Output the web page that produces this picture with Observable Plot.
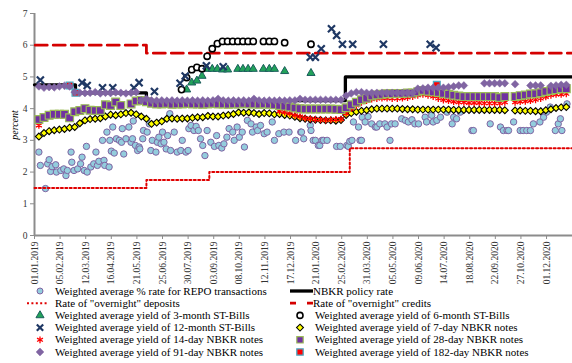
<!DOCTYPE html>
<html><head><meta charset="utf-8">
<script src="https://cdn.jsdelivr.net/npm/d3@7"></script>
<script src="https://cdn.jsdelivr.net/npm/@observablehq/plot@0.6"></script>
<style>
body{margin:0;background:#fff;}
#wrap{position:relative;width:572px;height:363px;overflow:hidden;font-family:"Liberation Serif","Times New Roman",serif;}
#wrap > svg{position:absolute;left:0;top:0;}
#wrap svg text{font-family:"Liberation Serif","Times New Roman",serif;}
.lg{position:absolute;font-size:11px;line-height:12px;white-space:nowrap;color:#000;}
#ylab{position:absolute;left:14px;top:125px;font-size:10px;font-style:italic;transform:translate(-50%,-50%) rotate(-90deg);white-space:nowrap;}
</style></head><body><div id="wrap"></div>
<script>
// ---------- DATA ----------
// x-axis tick labels (every 35 days)
const tickLabels = ["01.01.2019","05.02.2019","12.03.2019","16.04.2019","21.05.2019","25.06.2019","30.07.2019","03.09.2019","08.10.2019","12.11.2019","17.12.2019","21.01.2020","25.02.2020","31.03.2020","05.05.2020","09.06.2020","14.07.2020","18.08.2020","22.09.2020","27.10.2020","01.12.2020"];
const yTicks = [0,1,2,3,4,5,6,7];

// Step series (date of change, rate)
const policyDates = ["2019-01-01","2019-02-26","2019-06-03","2020-03-01","2021-01-06"];
const policyRates = [4.75,4.5,4.25,5.0,5.0];
const creditDates = ["2019-01-02","2019-06-03","2021-01-06"];
const creditRates = [6.0,5.75,5.75];
const depositDates = ["2019-01-01","2019-06-03","2019-08-28","2020-03-07","2021-01-06"];
const depositRates = [1.5,1.75,2.0,2.75,2.75];

// REPO transactions: day number since 01.01.2019 and weighted average rate
const repoDay = [6,8,15,18,20,22,24,29,30,36,40,43,45,50,51,54,59,63,65,68,71,72,77,81,84,86,88,93,95,96,99,102,103,105,107,109,112,116,119,120,122,125,129,132,134,135,138,141,143,144,148,149,154,157,159,161,166,168,170,173,175,177,180,182,185,186,191,195,200,202,207,210,211,214,218,221,224,227,230,233,236,241,246,249,252,256,259,263,266,271,273,277,280,284,287,291,296,298,303,305,309,314,318,325,328,334,341,348,357,364,365,368,377,378,381,384,388,390,393,395,400,413,418,427,429,431,434,436,443,445,447,448,452,456,461,466,468,472,479,482,486,488,493,502,507,511,516,520,525,534,536,543,545,550,555,564,571,573,577,582,598,600,623,637,641,646,648,655,664,668,673,678,682,691,696,700,705,712,716,719,721,728];
const repoRate = [2.63,2.21,1.48,2.26,2.39,2.02,2.17,2.23,2.0,2.05,2.1,1.89,2.05,2.63,2.31,2.05,2.1,2.26,2.47,2.05,2.81,2.0,2.16,2.26,2.63,2.21,2.34,3.0,2.37,2.21,3.26,2.16,3.0,2.66,3.42,2.6,3.05,3.0,2.94,3.37,2.57,3.05,3.42,2.94,3.05,3.61,2.84,2.68,2.79,2.73,3.05,3.31,3.26,3.52,2.68,3.0,2.63,2.94,3.1,2.89,3.26,2.94,2.73,3.15,3.84,2.68,3.26,2.63,2.68,3.0,2.63,2.68,3.37,3.47,3.31,3.44,3.31,3.05,2.84,2.52,3.31,2.94,2.81,3.15,2.84,2.76,2.89,3.1,3.37,3.26,3.0,3.42,3.1,3.26,2.79,3.63,3.52,3.26,3.42,3.31,3.47,3.21,3.26,3.58,3.0,3.21,3.26,3.26,3.0,3.26,3.26,3.05,3.47,3.31,3.0,3.0,2.84,2.84,3.0,3.0,3.0,2.81,2.81,2.84,2.81,2.97,3.0,3.58,3.42,3.0,3.0,3.73,3.58,3.75,3.52,3.42,3.42,3.52,3.52,3.42,3.0,3.52,3.52,3.68,3.63,3.58,3.65,3.52,3.52,3.73,3.58,3.79,3.58,3.63,3.73,3.89,3.52,3.73,3.68,3.89,3.31,3.31,3.52,3.42,3.31,3.31,3.31,3.58,3.31,3.31,3.31,3.31,3.52,3.58,3.73,3.89,4.05,3.31,3.52,3.68,3.31,4.15];

// ST-Bills auctions
const bill3Dates = ["2019-07-28","2019-08-04","2019-08-11","2019-08-18","2019-08-25","2019-09-01","2019-09-08","2019-09-15","2019-09-22","2019-10-06","2019-10-13","2019-10-20","2019-10-27","2019-11-10","2019-11-18","2019-11-25","2019-12-09","2020-01-14"];
const bill3Rates = [4.60,4.82,4.88,5.03,5.25,5.25,5.25,5.23,5.23,5.25,5.25,5.25,5.25,5.25,5.25,5.25,5.18,5.12];
const bill6Dates = ["2019-07-21","2019-07-28","2019-08-04","2019-08-11","2019-08-18","2019-08-25","2019-09-01","2019-09-08","2019-09-15","2019-09-22","2019-09-29","2019-10-06","2019-10-13","2019-10-20","2019-10-27","2019-11-10","2019-11-18","2019-11-25","2019-12-09","2020-01-14"];
const bill6Rates = [4.60,4.98,5.23,5.30,5.26,5.65,5.89,6.05,6.12,6.12,6.12,6.12,6.12,6.12,6.12,6.12,6.12,6.12,6.08,6.03];
const bill12Dates = ["2019-01-09","2019-03-07","2019-03-14","2019-04-04","2019-04-18","2019-05-17","2019-05-24","2019-06-14","2019-07-19","2019-07-26","2019-08-24","2019-09-16","2020-01-13","2020-01-20","2020-01-28","2020-02-11","2020-02-18","2020-02-26","2020-03-11","2020-04-22","2020-06-25","2020-07-03"];
const bill12Rates = [4.90,4.82,4.73,4.66,4.66,4.66,4.82,4.54,4.80,5.03,5.35,5.32,5.62,5.62,5.89,6.52,6.31,6.03,6.03,6.03,6.03,5.92];

// NBKR notes, weekly auctions starting 07.01.2019 (null = no auction)
const notes7 = [
3.12,3.23,3.29,3.32,3.34,3.36,3.40,3.42,3.54,3.63,
3.67,3.68,3.70,3.75,3.81,3.79,3.82,3.86,3.87,3.82,
3.75,3.68,3.52,3.56,3.60,3.68,3.69,3.68,3.69,3.69,
3.71,3.73,3.73,3.77,3.75,3.75,3.78,3.80,3.83,3.88,
3.87,3.88,3.86,3.83,3.86,3.85,3.82,3.83,3.80,3.78,
3.74,3.70,3.68,3.66,3.65,3.64,3.63,3.63,3.62,3.64,
3.80,3.86,3.90,3.93,3.95,3.98,4.00,4.00,4.00,4.00,
4.00,3.99,3.98,3.98,3.97,3.97,3.97,3.97,3.97,3.97,
3.97,3.96,3.96,3.96,3.96,3.96,3.96,3.96,3.96,3.96,
3.96,3.95,null,3.94,3.94,3.93,3.93,3.92,3.92,3.95,
3.98,4.02,4.04,4.05];
const notes14 = [
3.47,null,null,null,null,null,null,null,null,null,
null,null,null,null,null,null,null,null,null,null,
null,null,null,null,null,null,null,null,null,null,
null,null,null,null,null,null,null,null,null,null,
null,null,null,null,null,null,null,3.92,3.89,3.85,
3.79,3.75,3.70,3.68,3.66,3.65,3.64,3.65,3.66,3.67,
3.85,4.00,4.10,4.20,4.25,4.30,4.32,4.33,4.33,4.32,
4.32,4.33,4.35,4.38,4.42,4.45,4.42,4.38,4.32,4.27,
4.25,4.22,4.20,4.20,4.18,4.18,4.18,4.17,4.17,4.17,
4.17,4.20,null,4.20,4.22,4.23,4.25,4.28,4.32,4.37,
4.42,4.45,4.45,4.47];
const notes28 = [
3.66,3.72,3.79,3.82,3.82,3.82,3.71,3.90,3.94,4.00,
3.95,3.94,3.94,4.12,4.10,4.21,4.10,null,4.15,4.24,
4.26,4.22,4.17,4.15,4.15,4.16,4.14,4.15,4.15,4.16,
4.15,4.15,4.14,4.15,4.16,4.15,4.15,4.14,4.15,4.15,
4.16,4.15,4.15,4.14,4.15,4.14,4.12,4.10,4.08,4.05,
4.02,4.00,3.99,3.99,3.99,3.99,3.99,3.99,3.98,3.97,
4.03,4.12,4.20,4.28,4.33,4.40,4.43,4.45,4.47,4.47,
4.48,4.48,4.49,4.49,4.53,4.57,4.55,4.53,4.51,4.48,
4.45,4.42,4.40,4.38,4.38,4.38,4.38,4.38,4.38,4.38,
4.35,4.38,null,4.38,4.41,4.43,4.46,4.47,4.50,4.54,
4.57,4.60,4.63,4.63];
const notes91 = [
4.70,4.66,4.68,4.67,4.70,4.72,4.70,4.52,4.50,4.49,
4.50,4.52,4.48,4.50,4.49,4.51,4.50,4.48,4.50,4.52,
4.26,4.31,4.26,4.25,4.26,4.25,4.26,4.25,4.26,4.25,
4.26,4.25,4.26,4.25,4.26,4.31,4.26,4.25,4.26,4.25,
4.26,4.25,4.31,4.26,4.25,4.26,4.25,4.26,4.25,4.26,
4.26,4.31,4.28,4.28,4.28,4.28,4.28,4.28,4.28,4.28,
4.41,4.48,4.52,4.52,4.50,4.50,4.50,4.50,4.50,4.50,
4.50,4.50,4.50,4.50,4.63,4.64,4.66,4.66,4.66,4.66,
4.68,4.70,4.73,4.73,null,null,null,4.80,4.80,4.80,
4.80,4.80,null,4.77,null,null,4.73,4.73,4.73,null,
4.72,4.73,4.75,4.75];
const notes182Dates = ["2019-02-18","2019-02-26","2020-07-04"];
const notes182Rates = [4.73,4.50,4.75];

// ---------- HELPERS ----------
const base = new Date(Date.UTC(2019,0,1));
const firstWeek = new Date(Date.UTC(2019,0,7));
const parseLabel = d3.utcParse("%d.%m.%Y");
const tickDates = tickLabels.map(parseLabel);
const weekly = arr => arr.map((v,i)=>({date:d3.utcDay.offset(firstWeek,7*i),value:v})).filter(d=>d.value!=null);
const dated = (ds,vs) => ds.map((s,i)=>({date:new Date(s+"T00:00:00Z"),value:vs[i]}));
const repo = repoDay.map((d,i)=>({date:d3.utcDay.offset(base,d),value:repoRate[i]}));

const C = {
  repoFill:"#93cddd", repoStroke:"#8064a2", policy:"#000", credit:"#d40000", deposit:"#e00000",
  b3Fill:"#22a35a", b3Stroke:"#1b5e5c", b12:"#1f3864", n7Fill:"#ffff00", n14:"#ff0000",
  n28Fill:"#7030a0", n28Stroke:"#9bbb59", n91:"#8064a2", n182Fill:"#ff0000", n182Stroke:"#4bacc6"
};

const chart = Plot.plot({
  width:572, height:290,
  marginLeft:34, marginRight:0, marginTop:13, marginBottom:55,
  style:{fontFamily:"'Liberation Serif', 'Times New Roman', serif", fontSize:"9.5px", color:"#333", background:"transparent"},
  x:{type:"utc", domain:[base, new Date("2021-01-05T12:00:00Z")]},
  y:{domain:[0,7]},
  marks:[
    Plot.axisY({ticks:yTicks, tickSize:4, tickPadding:3, label:null, stroke:"#8c8c8c", tickFormat:d=>d}),
    Plot.axisX({ticks:tickDates, tickFormat:d3.utcFormat("%d.%m.%Y"), tickRotate:-90, tickSize:4, tickPadding:2, label:null, stroke:"#8c8c8c"}),
    Plot.ruleY([0], {stroke:"#8c8c8c", strokeWidth:2}),
    Plot.ruleX([base], {y1:0, y2:7, stroke:"#8c8c8c", strokeWidth:2}),
    Plot.dot(repo, {x:"date", y:"value", r:3.2, fill:C.repoFill, stroke:C.repoStroke, strokeWidth:1}),
    Plot.line(dated(policyDates,policyRates), {x:"date", y:"value", curve:"step-after", stroke:C.policy, strokeWidth:3.3}),
    Plot.line(dated(depositDates,depositRates), {x:"date", y:"value", curve:"step-after", stroke:C.deposit, strokeWidth:2, strokeDasharray:"2,2.4"}),
    Plot.line(dated(creditDates,creditRates), {x:"date", y:"value", curve:"step-after", stroke:C.credit, strokeWidth:2.8, strokeDasharray:"12,6"}),
    Plot.dot(dated(bill3Dates,bill3Rates), {x:"date", y:"value", symbol:"triangle", r:3, fill:C.b3Fill, stroke:C.b3Stroke, strokeWidth:1}),
    Plot.dot(dated(bill6Dates,bill6Rates), {x:"date", y:"value", r:3.1, fill:"#fff", stroke:"#000", strokeWidth:1.6}),
    Plot.dot(dated(bill12Dates,bill12Rates), {x:"date", y:"value", symbol:"times", r:3.3, stroke:C.b12, strokeWidth:2.2}),
    Plot.dot(weekly(notes7), {x:"date", y:"value", symbol:"diamond2", r:3.1, fill:C.n7Fill, stroke:"#000", strokeWidth:1.1}),
    Plot.dot(weekly(notes14), {x:"date", y:"value", symbol:"asterisk", r:3.2, stroke:C.n14, strokeWidth:1.3}),
    Plot.dot(weekly(notes28), {x:"date", y:"value", symbol:"square", r:4.4, fill:C.n28Fill, stroke:C.n28Stroke, strokeWidth:1.2}),
    Plot.dot(dated(notes182Dates,notes182Rates), {x:"date", y:"value", symbol:"square", r:3.8, fill:C.n182Fill, stroke:C.n182Stroke, strokeWidth:1.3}),
    Plot.dot(weekly(notes91), {x:"date", y:"value", symbol:"diamond2", r:3.5, fill:C.n91, stroke:C.n91, strokeWidth:0.5})
  ]
});
const wrap = document.getElementById("wrap");
wrap.appendChild(chart);

const yl = document.createElement("div");
yl.id = "ylab"; yl.textContent = "percent";
wrap.appendChild(yl);

// ---------- LEGEND ----------
const rowsY = [291, 303.2, 315.4, 327.6, 339.8, 352];
const leftItems = [
  {t:"Weighted average % rate for REPO transactions", k:"repo"},
  {t:"Rate of \"overnight\" deposits", k:"deposit"},
  {t:"Weighted average yield of 3-month ST-Bills", k:"b3"},
  {t:"Weighted average yield of 12-month ST-Bills", k:"b12"},
  {t:"Weighted average yield of 14-day NBKR notes", k:"n14"},
  {t:"Weighted average yield of 91-day NBKR notes", k:"n91"}
];
const rightItems = [
  {t:"NBKR policy rate", k:"policy"},
  {t:"Rate of \"overnight\" credits", k:"credit"},
  {t:"Weighted average yield of 6-month ST-Bills", k:"b6"},
  {t:"Weighted average yield of 7-day NBKR notes", k:"n7"},
  {t:"Weighted average yield of 28-day NBKR notes", k:"n28"},
  {t:"Weighted average yield of 182-day NBKR notes", k:"n182"}
];
const ns = "http://www.w3.org/2000/svg";
const lsvg = document.createElementNS(ns,"svg");
lsvg.setAttribute("width",572); lsvg.setAttribute("height",363);
lsvg.style.pointerEvents = "none";
wrap.appendChild(lsvg);
function sym(type, r, x, y, fill, stroke, sw){
  const p = document.createElementNS(ns,"path");
  p.setAttribute("d", d3.symbol(type, Math.PI*r*r)());
  p.setAttribute("transform",`translate(${x},${y})`);
  p.setAttribute("fill",fill); p.setAttribute("stroke",stroke); p.setAttribute("stroke-width",sw);
  lsvg.appendChild(p);
}
function seg(x1,x2,y,stroke,sw,dash){
  const l = document.createElementNS(ns,"line");
  l.setAttribute("x1",x1); l.setAttribute("x2",x2); l.setAttribute("y1",y); l.setAttribute("y2",y);
  l.setAttribute("stroke",stroke); l.setAttribute("stroke-width",sw);
  if(dash) l.setAttribute("stroke-dasharray",dash);
  lsvg.appendChild(l);
}
function swatch(k,x,y,lineX1,lineX2){
  switch(k){
    case "repo": sym(d3.symbolCircle,3,x,y,C.repoFill,C.repoStroke,1); break;
    case "deposit": seg(lineX1,lineX2,y,C.deposit,2,"2,2.4"); break;
    case "b3": sym(d3.symbolTriangle,3,x,y,C.b3Fill,C.b3Stroke,1); break;
    case "b12": sym(d3.symbolTimes,3,x,y,"none",C.b12,2.2); break;
    case "n14": sym(d3.symbolAsterisk,3.2,x,y,"none",C.n14,1.3); break;
    case "n91": sym(d3.symbolDiamond2,3.5,x,y,C.n91,C.n91,0.5); break;
    case "policy": seg(lineX1,lineX2,y,C.policy,3.3); break;
    case "credit": seg(lineX1,lineX2,y,C.credit,2.8,"6,11"); break;
    case "b6": sym(d3.symbolCircle,3,x,y,"#fff","#000",1.6); break;
    case "n7": sym(d3.symbolDiamond2,3.1,x,y,C.n7Fill,"#000",1.1); break;
    case "n28": sym(d3.symbolSquare,3.6,x,y,C.n28Fill,C.n28Stroke,1.2); break;
    case "n182": sym(d3.symbolSquare,3.6,x,y,C.n182Fill,C.n182Stroke,1.3); break;
  }
}
leftItems.forEach((it,i)=>{
  swatch(it.k, 40, rowsY[i], 27, 49);
  const d = document.createElement("div");
  d.className="lg"; d.textContent=it.t;
  d.style.left="55px"; d.style.top=(rowsY[i]-6.5)+"px";
  wrap.appendChild(d);
});
rightItems.forEach((it,i)=>{
  swatch(it.k, 300, rowsY[i], 290, 313);
  const d = document.createElement("div");
  d.className="lg"; d.textContent=it.t;
  d.style.left=(it.k==="policy"||it.k==="credit"?313:315)+"px"; d.style.top=(rowsY[i]-6.5)+"px";
  wrap.appendChild(d);
});
</script></body></html>
